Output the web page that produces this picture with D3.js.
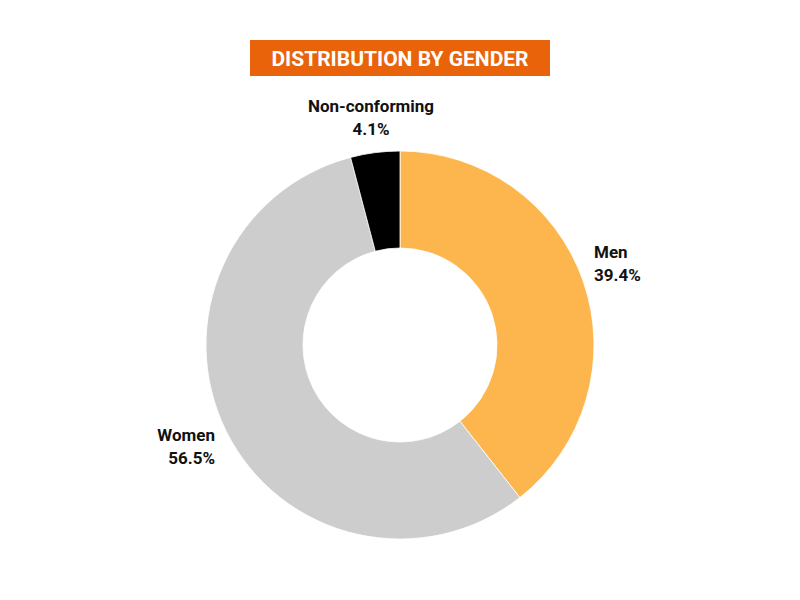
<!DOCTYPE html>
<html><head><meta charset="utf-8">
<script src="https://cdn.jsdelivr.net/npm/d3@7"></script>
<style>body{margin:0;background:#fff}</style></head>
<body><svg id="c" width="800" height="600"></svg>
<script>
const categories = ["Men", "Women", "Non-conforming"];
const values = [39.4, 56.5, 4.1];
const labels = ["39.4%", "56.5%", "4.1%"];
const colors = ["#FDB64E", "#CCCDCC", "#000000"];

const svg = d3.select("#c");
const font = "Roboto, 'Open Sans', sans-serif";
svg.append("rect").attr("x",250).attr("y",40).attr("width",300).attr("height",36).attr("fill","#E8630A");
svg.append("text").attr("x",400).attr("y",66).attr("text-anchor","middle").attr("fill","#fff")
  .attr("font-family",font).attr("font-weight","bold").attr("font-size",21).text("DISTRIBUTION BY GENDER");

const cx=400, cy=345, R=194, r=97;
const pie = d3.pie().sort(null).value(d=>d)(values);
const arc = d3.arc().innerRadius(r).outerRadius(R);
const g = svg.append("g").attr("transform",`translate(${cx},${cy})`);
g.selectAll("path").data(pie).join("path").attr("d",arc).attr("fill",(d,i)=>colors[i])
  .attr("stroke","#fff").attr("stroke-width",0.8);

const pos = [{x:594,y:258,a:"start"},{x:215,y:441,a:"end"},{x:371,y:112,a:"middle"}];
categories.forEach((c,i)=>{
  const t = svg.append("text").attr("font-family",font).attr("font-weight","bold").attr("font-size",17)
    .attr("fill","#111").attr("text-anchor",pos[i].a);
  t.append("tspan").attr("x",pos[i].x).attr("y",pos[i].y).text(c);
  t.append("tspan").attr("x",pos[i].x).attr("y",pos[i].y+23).text(labels[i]);
});
</script></body></html>
